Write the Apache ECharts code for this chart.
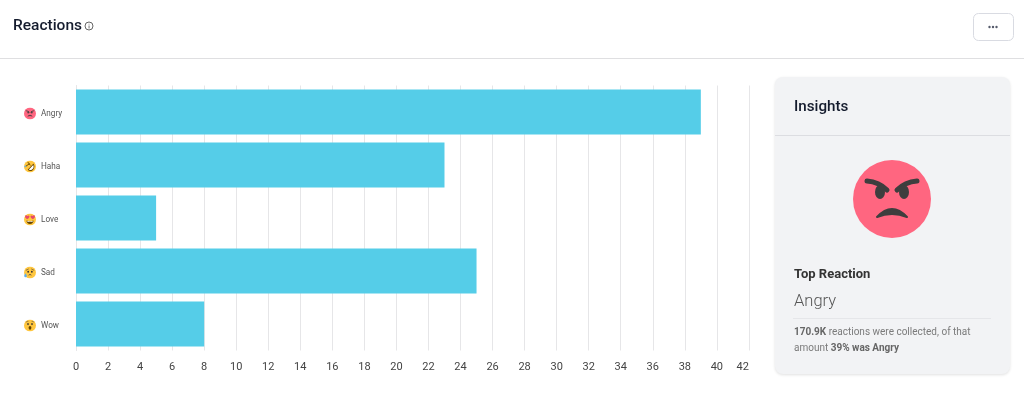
<!DOCTYPE html>
<html><head><meta charset="utf-8">
<style>html,body{margin:0;padding:0;background:#fff}#c{width:1024px;height:401px}</style>
<script src="https://cdn.jsdelivr.net/npm/echarts@6/dist/echarts.min.js"></script>
</head><body><div id="c"></div>
<script>
const categories = ['Angry', 'Haha', 'Love', 'Sad', 'Wow'];
const reactionCounts = [39, 23, 5, 25, 8];
const axisMax = 42;
const axisStep = 2;

const svgUri = s => 'data:image/svg+xml;charset=utf-8,' + encodeURIComponent('<svg xmlns="http://www.w3.org/2000/svg" viewBox="0 0 78 78" width="78" height="78">' + s + '</svg>');
const face = '<circle cx="39" cy="39" r="39" fill="#ffc63f"/>';
const dark = '#3f3a33';
const emoji = {
  Angry: '<circle cx="39" cy="39" r="39" fill="#ff6680"/><path d="M14 21 Q26 22 34 30 M64 21 Q52 22 44 30" stroke="#3e3e3e" stroke-width="5" fill="none" stroke-linecap="round"/><ellipse cx="27" cy="32" rx="5" ry="7" fill="#3e3e3e"/><ellipse cx="51" cy="32" rx="5" ry="7" fill="#3e3e3e"/><path d="M24 57 Q39 41 54 57 Q39 51 24 57Z" stroke="#3e3e3e" stroke-width="2" fill="#3e3e3e" stroke-linejoin="round"/>',
  Haha: face + '<path d="M24 60 L62 20 Q76 50 52 66 Q36 72 24 60Z" fill="#664500"/><path d="M32 59 L60 30 Q68 50 50 60 Q40 65 32 59Z" fill="#fff"/><path d="M14 36 L34 22 M26 12 L40 30" stroke="#664500" stroke-width="6" fill="none" stroke-linecap="round"/><path d="M8 30 L2 44 L16 42Z" fill="#5dadec"/>',
  Love: face + '<path d="M16 46 Q39 54 62 46 Q60 68 39 68 Q18 68 16 46Z" fill="#664500"/><path d="M21 49 Q39 54 57 49 L56 54 Q39 58 22 54Z" fill="#fff"/><path d="M20 38 Q2 26 7 15 Q15 6 22 16 Q32 8 36 19 Q36 29 20 38Z" fill="#e8496b"/><path d="M58 38 Q76 26 71 15 Q63 6 56 16 Q46 8 42 19 Q42 29 58 38Z" fill="#e8496b"/>',
  Sad: face + '<path d="M14 24 Q22 20 28 17 M64 24 Q56 20 50 17" stroke="'+dark+'" stroke-width="4" fill="none" stroke-linecap="round"/><circle cx="27" cy="34" r="6" fill="'+dark+'"/><circle cx="51" cy="34" r="6" fill="'+dark+'"/><path d="M27 58 Q39 42 51 58 Q39 52 27 58Z" fill="'+dark+'"/><path d="M10 44 L18 58 Q20 70 10 70 Q0 70 2 58Z" fill="#5dadec"/>',
  Wow: face + '<ellipse cx="26" cy="30" rx="5.5" ry="7" fill="'+dark+'"/><ellipse cx="52" cy="30" rx="5.5" ry="7" fill="'+dark+'"/><ellipse cx="39" cy="54" rx="9" ry="12" fill="#664500"/><path d="M14 16 Q20 11 26 12 M64 16 Q58 11 52 12" stroke="'+dark+'" stroke-width="3" fill="none" stroke-linecap="round"/>'
};
const rich = { t: { fontFamily: 'Roboto', fontSize: 8.2, color: '#555', padding: [0,0,0,5] } };
categories.forEach(c => { rich[c] = { width: 12, height: 12, backgroundColor: { image: svgUri(emoji[c]) } }; });

const F = 'Roboto';
const txt = (x, y, text, size, color, weight, family) => ({ type: 'text', x, y, silent: true, style: { text, fontSize: size, fill: color, fontWeight: weight || 400, fontFamily: family || F, verticalAlign: 'middle' } });
const rect = (x, y, w, h, fill) => ({ type: 'rect', silent: true, shape: { x, y, width: w, height: h }, style: { fill } });
const chart = echarts.init(document.getElementById('c'));
chart.setOption({
  animation: false,
  backgroundColor: '#fff',
  grid: { left: 76, top: 85.5, width: 672.9, height: 265, containLabel: false },
  xAxis: {
    type: 'value', min: 0, max: axisMax, interval: axisStep, position: 'bottom',
    axisLine: { show: false }, axisTick: { show: false },
    splitLine: { show: true, lineStyle: { color: '#e6e6e8', width: 1 } },
    axisLabel: { color: '#444', fontSize: 11, fontFamily: F, margin: 11, alignMaxLabel: 'right' }
  },
  yAxis: {
    type: 'category', data: categories, inverse: true,
    axisLine: { show: true, lineStyle: { color: '#e6e6e8' } }, axisTick: { show: false },
    axisLabel: { align: 'left', margin: 52, padding: [3, 0, 0, 0], formatter: v => '{' + v + '|}{t|' + v + '}', rich }
  },
  series: [{ type: 'bar', data: reactionCounts, barWidth: 45, itemStyle: { color: '#55cde8' } }],
  graphic: [
    txt(13, 26.5, 'Reactions', 15.5, '#151c2e', 500),
    { type: 'circle', silent: true, shape: { cx: 89, cy: 26, r: 4 }, style: { fill: 'none', stroke: '#666', lineWidth: 1 } },
    rect(88.6, 25.4, 0.9, 3, '#666'), rect(88.6, 23.7, 0.9, 0.9, '#666'),
    rect(0, 58, 1024, 1, '#dfdfe1'),
    { type: 'rect', silent: true, shape: { x: 973.5, y: 13.5, width: 40, height: 27, r: 5 }, style: { fill: '#fff', stroke: '#d9dbe2', lineWidth: 1 } },
    { type: 'circle', silent: true, shape: { cx: 989.5, cy: 27, r: 1.2 }, style: { fill: '#555b6b' } },
    { type: 'circle', silent: true, shape: { cx: 993, cy: 27, r: 1.2 }, style: { fill: '#555b6b' } },
    { type: 'circle', silent: true, shape: { cx: 996.5, cy: 27, r: 1.2 }, style: { fill: '#555b6b' } },
    { type: 'rect', silent: true, shape: { x: 775, y: 77, width: 235, height: 297, r: 8 }, style: { fill: '#f2f3f5', shadowBlur: 3, shadowColor: 'rgba(0,0,0,0.12)', shadowOffsetY: 1 } },
    txt(794, 107, 'Insights', 15.2, '#151c2e', 500),
    rect(775, 135, 235, 1, '#dcdde1'),
    { type: 'image', silent: true, style: { image: svgUri(emoji.Angry), x: 853, y: 160, width: 78, height: 78 } },
    txt(794, 275, 'Top Reaction', 13, '#333', 700),
    txt(794, 302, 'Angry', 16.5, '#555', 300),
    rect(793, 318, 198, 1, '#e5e6e9'),
    { type: 'text', x: 794, y: 332.5, silent: true, style: { text: '{b|170.9K} reactions were collected, of that', fontSize: 10, fill: '#7b7b7b', fontFamily: F, verticalAlign: 'middle', rich: { b: { fontWeight: 700, fontSize: 10, fill: '#666', fontFamily: F } } } },
    { type: 'text', x: 794, y: 348, silent: true, style: { text: 'amount {b|39% was Angry}', fontSize: 10, fill: '#7b7b7b', fontFamily: F, verticalAlign: 'middle', rich: { b: { fontWeight: 700, fontSize: 10, fill: '#666', fontFamily: F } } } }
  ]
});
</script></body></html>
